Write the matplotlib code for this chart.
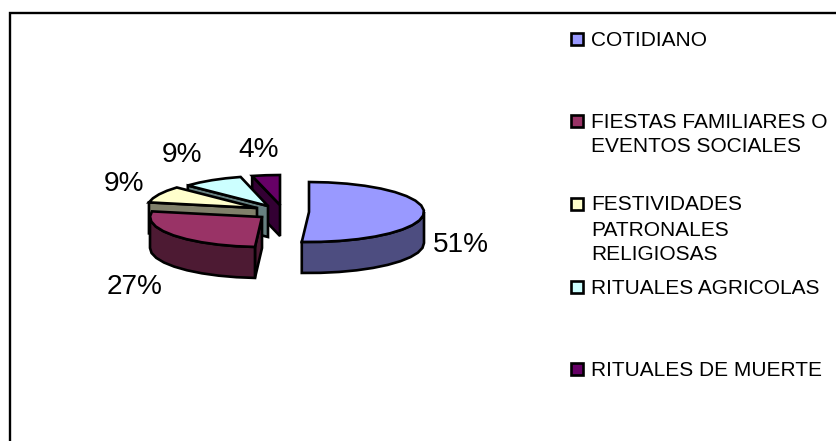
import numpy as np
import matplotlib
matplotlib.use("Agg")
import matplotlib.pyplot as plt
from matplotlib.patches import Polygon, Rectangle

plt.rcParams['font.family'] = ['Liberation Sans', 'DejaVu Sans']

categorias = ["COTIDIANO", "FIESTAS FAMILIARES O\nEVENTOS SOCIALES",
              "FESTIVIDADES\nPATRONALES\nRELIGIOSAS", "RITUALES AGRICOLAS",
              "RITUALES DE MUERTE"]
valores = [51, 27, 9, 9, 4]
etiquetas = ["51%", "27%", "9%", "9%", "4%"]

colores = ["#9999FF", "#993366", "#FFFFCC", "#CCFFFF", "#660066"]
oscuros = ["#4D4D80", "#4D1A33", "#80806A", "#668080", "#330033"]

# layout in pixels of the original picture
centros = [(309, 212), (262, 217), (257, 208), (268, 206), (280, 205)]
radios = [115, 112, 110, 110, 112]
pos_etiquetas = [(461, 245), (135, 287), (124, 184), (182, 155), (259, 150)]
pos_leyenda = [39, 121, 204, 287, 369]
RY = 30
ALTO = 31


def arco(c, a, t0, t1, dy=0):
    n = max(2, int(abs(t1 - t0) / 10) + 2)
    t = np.radians(np.linspace(t0, t1, n))
    return np.column_stack([c[0] + a * np.cos(t), c[1] - RY * np.sin(t) + dy])


fig = plt.figure(figsize=(8.37, 4.41), dpi=100)
ax = fig.add_axes([0, 0, 1, 1])
ax.set_xlim(0, 837)
ax.set_ylim(441, 0)
ax.axis('off')

# marco
ax.plot([10, 10, 837], [441, 13, 13], color='black', lw=1.7, solid_joinstyle='miter')

# angulos: horario desde arriba
bordes = 90 - np.cumsum([0] + valores) * 3.6
lw = 1.9

# de atras hacia delante
for i in [4, 3, 2, 1, 0]:
    c, a = centros[i], radios[i]
    t0, t1 = bordes[i], bordes[i + 1]
    z = 2 + (5 - i)

    # cara del corte, visible en las porciones traseras
    if i >= 1:
        b0 = arco(c, a, t0, t0)[0]
        cara = [c, tuple(b0), (b0[0], b0[1] + ALTO), (c[0], c[1] + ALTO)]
        ax.add_patch(Polygon(cara, closed=True, fc=oscuros[i], ec='black', lw=lw, zorder=z))

    # lateral exterior, solo la parte de delante
    ini, fin = min(t0, 0), max(t1, -180)
    if ini > fin:
        sup = arco(c, a, ini, fin)
        inf = arco(c, a, fin, ini, dy=ALTO)
        ax.add_patch(Polygon(np.vstack([sup, inf]), closed=True, fc=oscuros[i], ec='black',
                             lw=lw, zorder=z))

    # tapa
    tapa = np.vstack([[c], arco(c, a, t0, t1)])
    ax.add_patch(Polygon(tapa, closed=True, fc=colores[i], ec='black', lw=lw, zorder=z + 0.5))

for (x, y), txt in zip(pos_etiquetas, etiquetas):
    ax.text(x, y, txt, fontsize=20.2, ha='center', va='center', color='black', zorder=10)

# leyenda
for y, cat, col in zip(pos_leyenda, categorias, colores):
    ax.add_patch(Rectangle((571.5, y - 6.5), 12, 12, fc=col, ec='black', lw=1.9))
    lineas = cat.split("\n")
    for k, linea in enumerate(lineas):
        ax.text(591, y + 1 + k * 25, linea, fontsize=15, ha='left', va='center', color='black')

fig.savefig("out.png", dpi=100)
plt.close()
